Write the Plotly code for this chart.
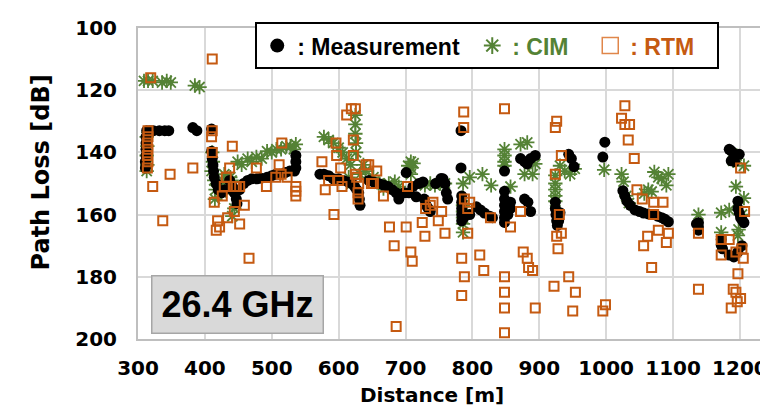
import plotly.graph_objects as go

# ---------------- data ----------------
meas_x = [311, 311, 312, 312, 312, 312, 313, 318, 323, 332, 340, 346, 382, 388, 410,
          410, 411, 412, 413, 414, 417, 420, 425, 430, 437, 441, 444, 447, 448, 452, 458, 464,
          470, 478, 484, 493, 500, 506, 512, 520, 527, 534, 536, 536, 536,
          572, 578, 585, 592, 600, 607, 614, 620, 624, 627, 630, 631, 632,
          645, 652, 660, 667, 674, 680, 686, 690, 698, 701, 705, 711, 716, 720, 726, 728,
          731, 734, 737, 745, 753, 756, 759, 761, 763,
          783, 783, 784, 784, 784, 784, 784, 787, 796, 806, 812, 818, 826, 830,
          848, 848, 848, 848, 848, 848, 848, 853, 853, 857, 857,
          872, 878, 882, 887, 894, 878, 883, 887,
          924, 924, 925, 926, 927, 929, 931, 944, 948, 952,
          998, 995, 1025, 1028, 1031, 1036, 1043, 1050, 1056, 1063, 1071, 1077, 1083, 1088, 1093,
          1135, 1138, 1138, 1138,
          1184, 1187, 1192, 1199, 1187, 1192, 1197, 1197, 1199, 1201, 1203, 1206,
          1172, 1172, 1174, 1184, 1191, 1197, 1203]
meas_y = [145, 143, 141, 139, 137, 135, 133, 133, 133, 133, 133, 133, 132, 133, 132.5,
          139.6, 142, 144, 146, 148, 150, 152, 153, 152, 149, 151, 153, 155, 156.5, 152, 150, 149,
          148.5, 148.5, 148.3, 148, 147.5, 147, 147, 146.5, 146, 146, 145, 143, 141,
          147, 147, 147.5, 148.5, 148.5, 149, 149.5, 150, 151, 152, 153, 155, 157,
          149, 149.5, 150, 150.5, 151, 152, 153, 155, 153, 146.5, 153, 151, 154.3, 150, 149.5, 155,
          157, 158, 159, 150, 148.4, 148.5, 150, 153, 155,
          133, 145, 154, 156, 158, 160, 162, 161, 160, 157.5, 158.5, 159.5, 160.5, 161,
          146, 152.5, 155, 157, 159, 161, 162.5, 157, 160, 156, 158,
          142, 143, 143.7, 142, 141, 155, 156, 159,
          156, 158, 160, 162, 163.5, 162, 159.4, 140.6, 142, 144.6,
          136.7, 141.5, 152.3, 154, 155.7, 157, 158.5, 159, 159.5, 159.8, 160, 160.5, 161, 161.5, 162.3,
          163, 162.6, 164, 165,
          139, 139.5, 140.5, 140.6, 142.7, 143, 155.7, 158, 159.5, 161, 161.6, 162.6,
          168, 169.8, 171, 173, 173.6, 172, 170]

cim_x = [309, 315, 322, 336, 343, 349, 385, 392, 313, 314, 313, 314, 313,
         411, 412, 410, 414, 416, 420, 425, 430, 415, 429, 440, 441, 444, 449, 455, 464, 470,
         477, 485, 493, 500, 507, 514, 522, 528, 536, 533, 438, 432,
         578, 585, 592, 600, 606, 612, 618, 625, 625, 625, 626, 626, 637, 615, 620, 632, 640,
         652, 660, 667, 675, 684, 690, 704, 708, 708, 708, 712, 729, 737, 744, 752, 759,
         786, 786, 786, 786, 786, 786, 796, 815, 828, 848, 848, 848, 848, 857,
         872, 882, 878, 890, 894, 924, 924, 924, 924, 924, 931, 938, 946, 953,
         997, 1023, 1026, 1034, 1030, 1057, 1063, 1068, 1072, 1078, 1083, 1093, 1090,
         1138, 1172, 1184, 1172, 1190, 1195, 1206, 1194, 1206, 1198, 1197, 1203]
cim_y = [117, 117, 117, 117.5, 117, 117.5, 118.5, 119, 135, 138, 141, 144, 146,
         140, 143, 146, 149, 152, 150, 153, 152, 155, 147, 149, 160.5, 158, 143, 144, 142, 143,
         141.5, 142, 139.6, 140, 139, 139, 138, 138, 137.4, 139, 148, 149,
         135, 136, 137, 138.5, 140, 142, 144, 128, 131, 134, 137, 140, 144, 148, 150, 147, 146,
         148, 150, 151.6, 150, 149.4, 151, 144.3, 143, 145, 147, 143.5, 150.6, 150, 150.6, 150, 150,
         150, 157, 159, 161, 163, 165.7, 148, 147, 150.6, 139, 141, 143, 144.3, 151,
         137.4, 136.8, 147, 147, 143.7, 147.4, 150, 152, 154, 155.7, 144.3, 146, 147, 145.3,
         145.6, 147, 149.4, 156.3, 154, 153.2, 152, 152.6, 146.3, 148, 148.4, 147, 150.6,
         160, 159.4, 158.5, 165.7, 142.7, 141, 144.3, 151, 154.7, 164.8, 166.7, 160]

rtm_x = [319, 315, 315, 314, 315, 314, 315, 314, 322, 337, 348, 382,
         411, 411, 410, 411, 441, 437, 432, 429, 426, 414, 447, 444, 452, 419, 422, 417, 434,
         452, 459, 444, 466, 477,
         492, 511, 506, 523, 515, 536, 536, 536, 514,
         575, 580, 585, 593, 596, 597, 603, 600, 605, 612, 619, 625, 622, 622, 625, 627, 629,
         629, 641, 649, 630,
         645, 657, 652, 667, 676, 683, 701, 703, 708, 710, 686, 725, 729, 737, 741, 749, 754,
         759, 730,
         787, 787, 788, 796, 793, 793, 784, 788, 784, 811, 817, 827, 848, 848, 848, 848, 848,
         857, 872, 876, 882, 884, 890, 894,
         926, 924, 933, 924, 930, 926, 933, 928, 922, 944, 954, 950,
         995, 999, 1028, 1023, 1028, 1035, 1033, 1042, 1046, 1054, 1071, 1085, 1071, 1062,
         1056, 1078, 1093, 1090, 1068,
         1138, 1138, 1172, 1172, 1184, 1201, 1207, 1194, 1203, 1205, 1197, 1190, 1194, 1201,
         1196, 1187]
rtm_y = [116, 133, 135, 137, 139, 141, 143, 145, 151, 162, 147, 145,
         110, 133, 135, 140, 138, 145, 148, 151, 154, 156, 151, 151, 151, 162, 164, 165, 161,
         163, 157, 159, 174, 145,
         151, 144, 148, 148, 137, 151, 152.5, 154, 147,
         143, 152, 149, 160, 137, 141, 145, 149, 151, 128, 126, 126, 136, 141, 147, 148, 153,
         155, 144, 150, 150,
         144, 146, 150, 154, 164, 170, 164, 151, 172, 175, 196, 162.5, 167, 157, 156, 162, 159,
         166, 158,
         127, 132, 155, 156, 158, 166, 174, 180, 186, 173, 178, 161, 126, 180, 185, 190, 198,
         164, 159, 172, 174, 177, 178, 190,
         130, 132, 141, 147, 160, 167, 166, 171, 183, 180, 185, 191,
         191, 189, 125, 129, 131, 131, 136, 142, 152, 155, 156, 156, 160, 167,
         170, 165, 166, 169, 177,
         166, 184, 168, 173, 168, 145, 159, 172, 171, 174, 179, 184, 185, 187,
         188, 190]

x_ticks = [300, 400, 500, 600, 700, 800, 900, 1000, 1100, 1200]
y_ticks = [100, 120, 140, 160, 180, 200]

GREEN = "#548235"
ORANGE = "#c55a11"
TICKFONT = dict(family="DejaVu Sans", size=20, color="black", weight="bold")

fig = go.Figure()
fig.add_trace(go.Scatter(x=cim_x, y=cim_y, mode="markers", showlegend=False,
                         marker=dict(symbol="asterisk-open", size=12, color=GREEN,
                                     line=dict(color=GREEN, width=1.8))))
fig.add_trace(go.Scatter(x=meas_x, y=meas_y, mode="markers", showlegend=False,
                         marker=dict(symbol="circle", size=11, color="black")))
fig.add_trace(go.Scatter(x=rtm_x, y=rtm_y, mode="markers", showlegend=False,
                         marker=dict(symbol="square-open", size=9, color=ORANGE,
                                     line=dict(color=ORANGE, width=2))))

# legend entries
fig.add_trace(go.Scatter(x=[None], y=[None], mode="markers", name=": Measurement",
                         legendwidth=170,
                         marker=dict(symbol="circle", size=14, color="black")))
fig.add_trace(go.Scatter(x=[None], y=[None], mode="markers",
                         name='<span style="color:%s">: CIM</span>' % GREEN,
                         legendwidth=73,
                         marker=dict(symbol="asterisk-open", size=14, color=GREEN,
                                     line=dict(color=GREEN, width=2))))
fig.add_trace(go.Scatter(x=[None], y=[None], mode="markers",
                         name='<span style="color:%s">: RTM</span>' % ORANGE,
                         legendwidth=82,
                         marker=dict(symbol="square-open", size=16, color="#e0864a",
                                     line=dict(color="#e0864a", width=1.5))))

# the page body offsets the figure by 8 px; margins compensate
fig.update_layout(
    width=768, height=407,
    margin=dict(l=130, r=8, t=13, b=76),
    paper_bgcolor="white", plot_bgcolor="white",
    showlegend=True,
    legend=dict(orientation="h", x=(248 - 130) / 630, y=(331 - 7) / 318,
                xanchor="left", yanchor="top",
                bgcolor="white", bordercolor="black", borderwidth=2,
                font=dict(family="Liberation Sans", size=23, color="black", weight="bold"),
                itemsizing="trace"),
    xaxis=dict(range=[300, 1236], tickvals=x_ticks, ticktext=[str(v) for v in x_ticks],
               showgrid=True, gridcolor="#d9d9d9", gridwidth=2,
               showline=True, linecolor="#bfbfbf", linewidth=2, mirror=True,
               ticks="outside", ticklen=10, tickcolor="rgba(0,0,0,0)",
               ticklabeloverflow="allow",
               tickfont=TICKFONT, zeroline=False),
    yaxis=dict(range=[200, 100], tickvals=y_ticks, ticktext=[str(v) for v in y_ticks],
               showgrid=True, gridcolor="#d9d9d9", gridwidth=2,
               showline=True, linecolor="#bfbfbf", linewidth=2, mirror=True,
               ticks="outside", ticklen=15, tickcolor="rgba(0,0,0,0)",
               tickfont=TICKFONT, zeroline=False),
    annotations=[
        dict(text="Path Loss [dB]", textangle=-90, xref="paper", yref="paper",
             x=0, y=0.5, xanchor="center", yanchor="middle", xshift=-98, yshift=11,
             showarrow=False,
             font=dict(family="DejaVu Sans", size=24, color="black", weight="bold")),
        dict(text="Distance [m]", xref="paper", yref="paper",
             x=0.5, y=0, xanchor="center", yanchor="middle", xshift=-19, yshift=-56,
             showarrow=False,
             font=dict(family="DejaVu Sans", size=20, color="black", weight="bold")),
        dict(text="26.4 GHz", xref="x", yref="y", x=448.5, y=189,
             xanchor="center", yanchor="middle", showarrow=False,
             width=168, height=54, bgcolor="#d9d9d9", bordercolor="#a6a6a6", borderwidth=1.5,
             font=dict(family="Liberation Sans", size=36, color="black", weight="bold")),
    ],
)

fig.write_html("out.html")
